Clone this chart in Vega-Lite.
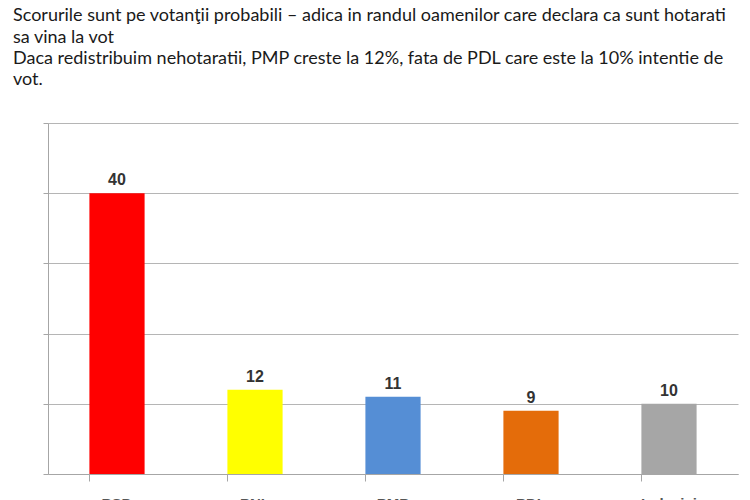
{
  "$schema": "https://vega.github.io/schema/vega-lite/v6.json",
  "autosize": {"type": "none"},
  "padding": {"left": 48, "top": 123, "right": 12, "bottom": 26},
  "width": 690,
  "height": 351,
  "background": "#ffffff",
  "title": {
    "text": [
      "Scorurile sunt pe votanţii probabili – adica in randul oamenilor care declara ca sunt hotarati",
      "sa vina la vot",
      "Daca redistribuim nehotaratii, PMP creste la 12%, fata de PDL care este la 10% intentie de",
      "vot."
    ],
    "anchor": "start",
    "frame": "group",
    "dx": -35,
    "offset": 33,
    "font": "Lato",
    "fontSize": 18,
    "fontWeight": "normal",
    "color": "#1a1a1a",
    "lineHeight": 21.4
  },
  "data": {
    "values": [
      {"partid": "PSD", "procent": 40},
      {"partid": "PNL", "procent": 12},
      {"partid": "PMP", "procent": 11},
      {"partid": "PDL", "procent": 9},
      {"partid": "Indecisi", "procent": 10}
    ]
  },
  "encoding": {
    "x": {
      "field": "partid",
      "type": "nominal",
      "sort": null,
      "scale": {"paddingInner": 0.6, "paddingOuter": 0.3},
      "axis": {
        "title": null,
        "labelAngle": 0,
        "bandPosition": 0,
        "tickSize": 7,
        "labelPadding": 15,
        "labelFont": "Liberation Sans",
        "labelFontSize": 15,
        "labelFontWeight": "bold",
        "labelColor": "#555555",
        "domainColor": "#a6a6a6",
        "tickColor": "#a6a6a6"
      }
    },
    "y": {
      "field": "procent",
      "type": "quantitative",
      "scale": {"domain": [0, 50]},
      "axis": {
        "title": null,
        "labels": false,
        "tickCount": 5,
        "tickSize": 5,
        "domainColor": "#a6a6a6",
        "tickColor": "#a6a6a6",
        "gridColor": "#b5b5b5",
        "gridOpacity": 1
      }
    }
  },
  "layer": [
    {
      "mark": {"type": "bar"},
      "encoding": {
        "color": {
          "field": "partid",
          "type": "nominal",
          "scale": {
            "domain": ["PSD", "PNL", "PMP", "PDL", "Indecisi"],
            "range": ["#ff0000", "#ffff00", "#558ed5", "#e46c0a", "#a6a6a6"]
          },
          "legend": null
        }
      }
    },
    {
      "mark": {
        "type": "text",
        "dy": -13,
        "font": "Liberation Sans",
        "fontSize": 16,
        "fontWeight": "bold",
        "color": "#333333"
      },
      "encoding": {"text": {"field": "procent", "type": "quantitative"}}
    }
  ],
  "config": {"view": {"stroke": null}}
}
